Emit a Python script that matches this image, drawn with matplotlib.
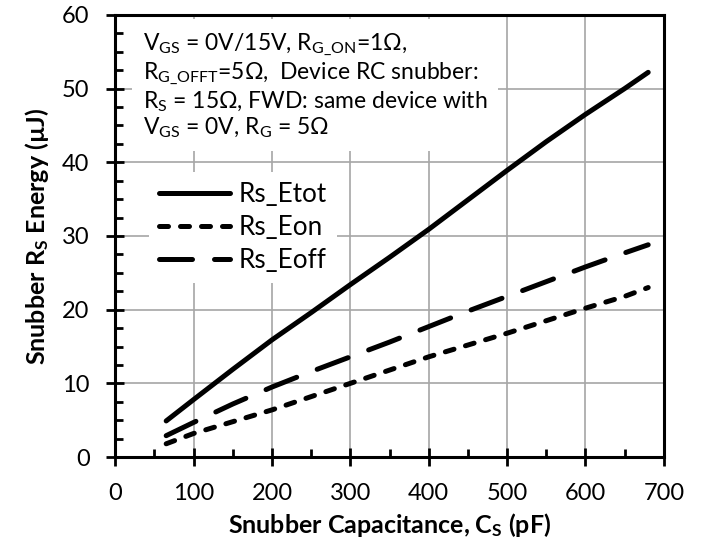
import matplotlib
matplotlib.use("Agg")
import matplotlib.pyplot as plt
from matplotlib.ticker import MultipleLocator

plt.rcParams['font.family'] = ['Lato', 'DejaVu Sans']
plt.rcParams['mathtext.fontset'] = 'custom'
plt.rcParams['mathtext.rm'] = 'Lato'
plt.rcParams['mathtext.it'] = 'Lato'
plt.rcParams['mathtext.bf'] = 'Lato:bold'

# snubber capacitance (pF)
cs = [65, 100, 150, 200, 250, 300, 350, 400, 450, 500, 550, 600, 650, 680]
# snubber resistor energy (uJ)
rs_etot = [4.9, 7.8, 11.9, 15.9, 19.6, 23.4, 27.1, 30.9, 34.9, 38.9, 42.8, 46.5, 50.0, 52.2]
rs_eon = [1.8, 3.2, 4.8, 6.4, 8.2, 10.0, 11.8, 13.6, 15.2, 16.8, 18.5, 20.2, 21.8, 23.0]
rs_eoff = [2.9, 4.7, 7.2, 9.5, 11.6, 13.6, 15.6, 17.7, 19.8, 21.8, 23.8, 25.8, 27.7, 28.8]

fig = plt.figure(figsize=(7.07, 5.5), dpi=100)
ax = fig.add_axes([0.163, 0.169, 0.776, 0.804])

lw = 3.6
ax.plot(cs, rs_etot, color='black', lw=lw, solid_capstyle='round', label='Rs_Etot', zorder=5)
ax.plot(cs, rs_eon, color='black', lw=lw, dashes=(1.8, 2.4), dash_capstyle='round', label='Rs_Eon', zorder=5)
ax.plot(cs, rs_eoff, color='black', lw=lw, dashes=(6.6, 4.4), dash_capstyle='round', label='Rs_Eoff', zorder=5)

ax.set_xlim(0, 700)
ax.set_ylim(0, 60)
ax.xaxis.set_major_locator(MultipleLocator(100))
ax.xaxis.set_minor_locator(MultipleLocator(50))
ax.yaxis.set_major_locator(MultipleLocator(10))
ax.yaxis.set_minor_locator(MultipleLocator(2.5))
ax.tick_params(which='major', direction='inout', length=13, width=2, labelsize=17, pad=12)
ax.tick_params(which='minor', direction='in', length=6, width=2)
for s in ax.spines.values():
    s.set_linewidth(2.2)
ax.grid(True, which='major', color='#a6a6a6', lw=1.2, zorder=0)
ax.set_axisbelow(True)

ax.set_xlabel(r'Snubber Capacitance, C$_\mathregular{S}$ (pF)', fontsize=18, fontweight='bold', labelpad=5)
ax.set_ylabel(r'Snubber R$_\mathregular{S}$ Energy (µJ)', fontsize=18, fontweight='bold', labelpad=8)

note = (r'V$_\mathregular{GS}$ = 0V/15V, R$_\mathregular{G\_ON}$=1Ω,' '\n'
        r'R$_\mathregular{G\_OFFT}$=5Ω,  Device RC snubber:' '\n'
        r'R$_\mathregular{S}$ = 15Ω, FWD: same device with' '\n'
        r'V$_\mathregular{GS}$ = 0V, R$_\mathregular{G}$ = 5Ω')
ax.text(0.05, 0.962, note, transform=ax.transAxes, fontsize=16.5, va='top', ha='left',
        linespacing=1.12, zorder=3,
        bbox=dict(boxstyle='square,pad=0.45', fc='white', ec='none'))

leg = ax.legend(loc='upper left', bbox_to_anchor=(0.061, 0.645), borderaxespad=0,
                fontsize=18.8, handlelength=2.7, handletextpad=0.33, labelspacing=0.3,
                borderpad=0.4, frameon=True, fancybox=False, framealpha=1,
                edgecolor='none')
leg.set_zorder(4)

fig.savefig('out.png', dpi=100)
